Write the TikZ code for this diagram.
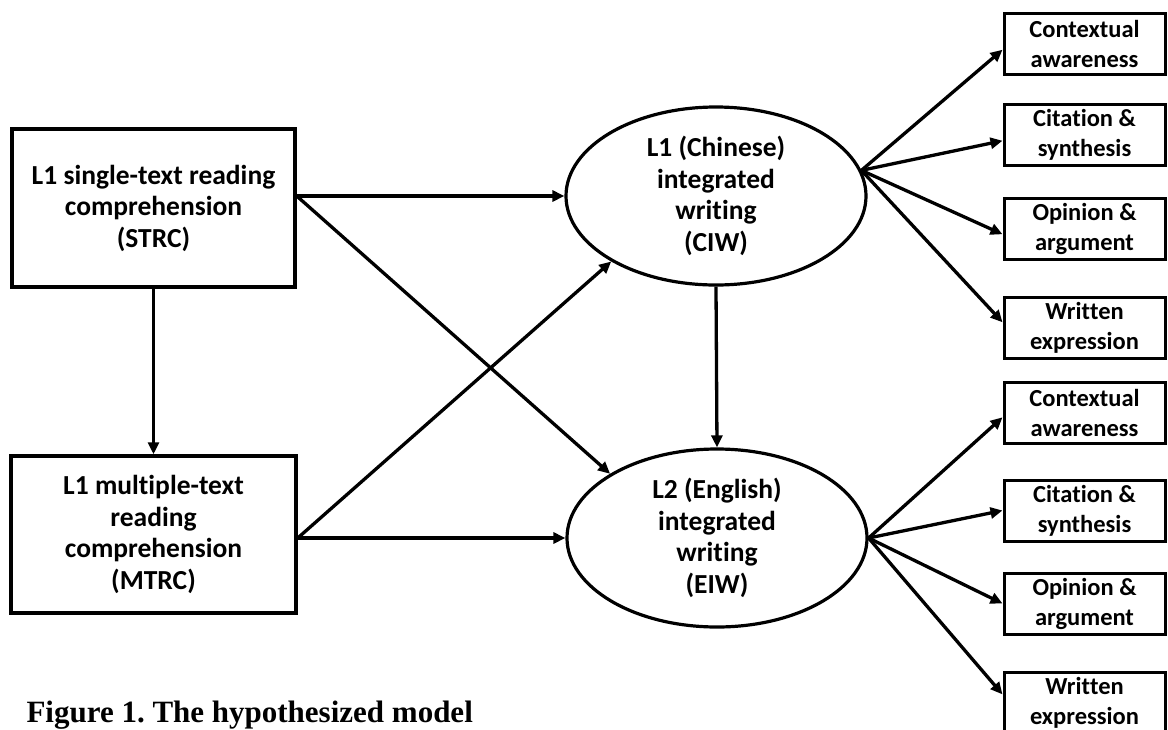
\documentclass[tikz,border=0pt]{standalone}
\usepackage{fontspec}
\setmainfont{Carlito}[Ligatures={NoCommon,NoContextual,NoRare}]
\newfontfamily\capfont{Liberation Serif}
\newcommand\lgbrk{\kern0pt }
\usetikzlibrary{arrows.meta,shapes.geometric,calc}
\begin{document}
\frenchspacing
\begin{tikzpicture}[x=1pt,y=-1pt,
  box/.style={draw,line width=3.5pt,rectangle,inner sep=0pt,align=center,
    font=\bfseries\fontsize{27.5}{31.5}\selectfont},
  latent/.style={draw,line width=3.2pt,ellipse,minimum width=300pt,minimum height=178pt,
    inner sep=0pt,align=center,font=\bfseries\fontsize{27.5}{31.7}\selectfont},
  ind/.style={draw,line width=3pt,rectangle,minimum width=161pt,minimum height=61pt,
    inner sep=0pt,align=center,font=\bfseries\fontsize{24.5}{30}\selectfont},
  arr/.style={line width=3.3pt,-{Triangle[length=12pt,width=11pt]}},
  captext/.style={anchor=base west,font=\capfont\bfseries\fontsize{31}{34}\selectfont},
]
\clip (0,0) rectangle (1168,729);
\fill[white] (0,0) rectangle (1168,729);

% observed variables (left)
\node[box,minimum width=283pt,minimum height=158pt] (strc) at (153.5,208)
  {L1 single-text reading\\comprehension\\(STRC)};
\node[box,minimum width=285pt,minimum height=157pt] (mtrc) at (153.5,534.5)
  {L1 mult\lgbrk iple-text\\reading\\comprehension\\(MTRC)};

% latent variables
\node[latent] (ciw) at (716,196) {L1 (Chinese)\\integrated\\writ\lgbrk ing\\(CIW)};
\node[latent] (eiw) at (717,538) {L2 (English)\\integrated\\writ\lgbrk ing\\(EIW)};

% indicators of CIW
\node[ind] (c1) at (1084.5,44)    {Contextual\\awareness};
\node[ind] (c2) at (1084.5,135)   {Citat\lgbrk ion \&\\synthesis};
\node[ind] (c3) at (1084.5,228.5) {Opinion \&\\argument};
\node[ind] (c4) at (1084.5,328)   {Writ\lgbrk ten\\expression};

% indicators of EIW
\node[ind] (e1) at (1084.5,413)   {Contextual\\awareness};
\node[ind] (e2) at (1084.5,510.5) {Citat\lgbrk ion \&\\synthesis};
\node[ind] (e3) at (1084.5,603.5) {Opinion \&\\argument};
\node[ind] (e4) at (1084.5,703)   {Writ\lgbrk ten\\expression};

% caption
\node[captext] (cap) at (23,722) {Figure 1. The hypothesized model};

% structural paths
\coordinate (s0) at (strc.east |- ciw.west);
\coordinate (m0) at (mtrc.east |- eiw.west);
\draw[arr] (strc.south) -- (mtrc.north);
\draw[arr] (s0) -- (ciw.west);
\draw[arr] (s0) -- (eiw.149);
\draw[arr] (m0) -- (ciw.212);
\draw[arr] (m0) -- (eiw.west);
\draw[arr] (ciw.south) -- (eiw.north);

% measurement paths
\coordinate (cf) at (ciw.10);
\draw[arr] (cf) -- (c1.184);
\draw[arr] (cf) -- (c2.184);
\draw[arr] (cf) -- (c3.184);
\draw[arr] (cf) -- (c4.176);
\coordinate (ef) at (eiw.east);
\draw[arr] (ef) -- (e1.183);
\draw[arr] (ef) -- (e2.west);
\draw[arr] (ef) -- (e3.west);
\draw[arr] (ef) -- (e4.174);
\end{tikzpicture}
\end{document}
